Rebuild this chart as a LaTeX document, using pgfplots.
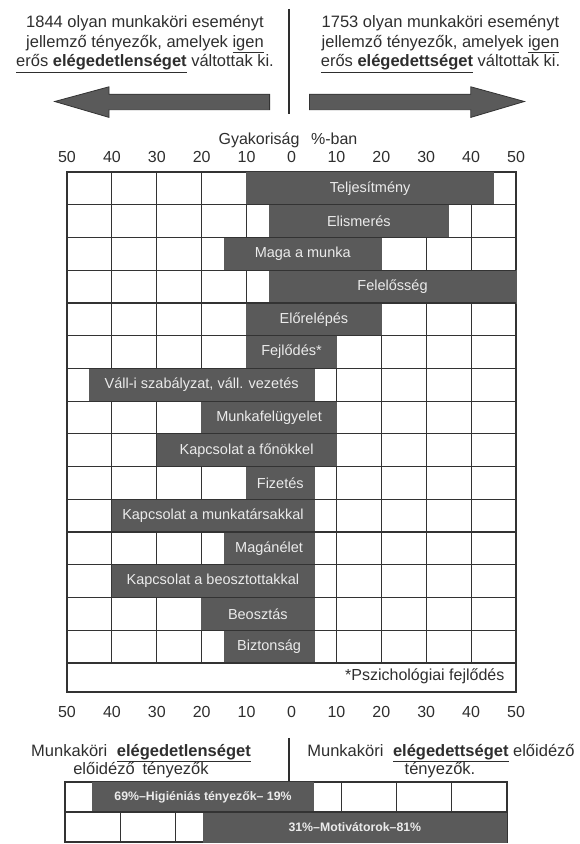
\documentclass[border=0pt]{standalone}
\usepackage{pgfplots}
\pgfplotsset{compat=1.18}
\usepackage{pgfplotstable}
\usepackage{fontspec}
\setmainfont{Liberation Sans}
\definecolor{txt}{HTML}{2E2E2E}
\definecolor{barfill}{HTML}{5A5A5A}
\definecolor{bartxt}{HTML}{EBEBEB}
\definecolor{gridc}{HTML}{333333}

\pgfplotstableread[col sep=semicolon]{
row;lo;hi;label
1;-10;45;Teljesítmény
2;-5;35;Elismerés
3;-15;20;Maga a munka
4;-5;50;Felelősség
5;-10;20;Előrelépés
6;-10;10;Fejlődés*
7;-45;5;Váll-i szabályzat, váll. vezetés
8;-20;10;Munkafelügyelet
9;-30;10;Kapcsolat a főnökkel
10;-10;5;Fizetés
11;-40;5;Kapcsolat a munkatársakkal
12;-15;5;Magánélet
13;-40;5;Kapcsolat a beosztottakkal
14;-20;5;Beosztás
15;-15;5;Biztonság
}\maindata

\pgfplotstableread[col sep=semicolon]{
row;lo;hi;label
1;-3.5;0.5;69\%\textendash Higiéniás tényezők\textendash{} 19\%
2;-1.5;4;31\%\textendash Motivátorok\textendash 81\%
}\lowdata

\begin{document}
\begin{tikzpicture}[x=1pt,y=1pt]
\useasboundingbox (0pt,0pt) rectangle (579pt,844pt);

% top texts
\node[align=center, text=txt, font=\fontsize{16.5}{19.8}\selectfont] at (145pt,800.2pt)
 {1844 olyan munkaköri eseményt\\jellemző tényezők, amelyek \underline{igen}\\\underline{erős \textbf{elégedetlenséget}} váltottak ki.};
\node[align=center, text=txt, font=\fontsize{16.5}{19.8}\selectfont] at (440.5pt,800.2pt)
 {1753 olyan munkaköri eseményt\\jellemző tényezők, amelyek \underline{igen}\\\underline{erős \textbf{elégedettséget}} váltottak ki.};
\draw[line width=1.6pt, txt] (289pt,835pt) -- (289pt,729.5pt);
% arrows
\filldraw[fill=barfill, draw=gridc, line width=0.8pt]
 (54.7pt,742.5pt) -- (109pt,757.2pt) -- (109pt,749.8pt) -- (269.6pt,749.8pt) -- (269.6pt,734.3pt) -- (109pt,734.3pt) -- (109pt,726.6pt) -- cycle;
\filldraw[fill=barfill, draw=gridc, line width=0.8pt]
 (309.5pt,749.8pt) -- (470.8pt,749.8pt) -- (470.8pt,757.2pt) -- (524.4pt,742.5pt) -- (470.8pt,726.6pt) -- (470.8pt,734.3pt) -- (309.5pt,734.3pt) -- cycle;
\node[text=txt, font=\fontsize{16}{19}\selectfont] at (288pt,704pt) {Gyakoriság\hspace{0.45em} \%-ban};

% main chart
\begin{axis}[
  at={(67pt,152pt)}, anchor=south west,
  width=449pt, height=520pt, scale only axis,
  xmin=-50, xmax=50, ymin=-0.385, ymax=15.5,
  xtick={-50,-40,...,50},
  xticklabels={50,40,30,20,10,0,10,20,30,40,50},
  xticklabel pos=upper,
  xticklabel style={anchor=south, inner sep=0pt, yshift=9pt, text=txt, font=\fontsize{16}{19}\selectfont},
  ytick=\empty, major tick length=0pt,
  axis line style={line width=1.6pt, draw=gridc},
  clip=false,
]
\pgfplotsinvokeforeach{-40,-30,-20,-10,10,20,30,40}{
  \draw[gridc, line width=1.1pt] (axis cs:#1,0.5) -- (axis cs:#1,15.5);
}
\addplot[xbar, bar width=1, bar shift=0pt, fill=barfill, draw=barfill, line width=0.6pt] table[x=lo, y expr={16-\thisrow{row}}] {\maindata};
\addplot[xbar, bar width=1, bar shift=0pt, fill=barfill, draw=barfill, line width=0.6pt] table[x=hi, y expr={16-\thisrow{row}}] {\maindata};
\pgfplotsinvokeforeach{0.5,1.5,...,14.5}{
  \draw[gridc, line width=1.2pt] (axis cs:-50,#1) -- (axis cs:50,#1);
}
\addplot[draw=none, mark=none, nodes near coords, point meta=explicit symbolic,
  nodes near coords style={anchor=center, text=bartxt, font=\fontsize{14.5}{17}\selectfont}]
  table[x expr={(\thisrow{lo}+\thisrow{hi})/2}, y expr={16-\thisrow{row}}, meta=label] {\maindata};
\node[anchor=east, text=txt, font=\fontsize{16}{19}\selectfont] at (axis cs:48.2,0.1) {*Pszichológiai fejlődés};
\end{axis}

% bottom tick labels
\begin{axis}[
  at={(67pt,152pt)}, anchor=south west,
  width=449pt, height=520pt, scale only axis,
  xmin=-50, xmax=50, ymin=0, ymax=1,
  xtick={-50,-40,...,50},
  xticklabels={50,40,30,20,10,0,10,20,30,40,50},
  xticklabel pos=lower,
  xticklabel style={anchor=north, inner sep=0pt, yshift=-14pt, text=txt, font=\fontsize{16}{19}\selectfont},
  ytick=\empty, major tick length=0pt,
  axis line style={draw=none},
]
\end{axis}

% lower legend texts
\node[text=txt, font=\fontsize{16.5}{19.8}\selectfont] at (141pt,91pt) {Munkaköri\hspace{0.3em} \underline{\textbf{elégedetlenséget}}};
\node[text=txt, font=\fontsize{16.5}{19.8}\selectfont] at (141pt,74pt) {előidéző\hspace{0.2em} tényezők};
\node[text=txt, font=\fontsize{16.5}{19.8}\selectfont] at (441pt,91pt) {Munkaköri\hspace{0.3em} \underline{\textbf{elégedettséget}} előidéző};
\node[text=txt, font=\fontsize{16.5}{19.8}\selectfont] at (440pt,74pt) {tényezők.};
\draw[line width=1.6pt, txt] (289pt,106pt) -- (289pt,63pt);

% lower chart
\begin{axis}[
  at={(65pt,2pt)}, anchor=south west,
  width=441.7pt, height=60pt, scale only axis,
  xmin=-4, xmax=4, ymin=0.5, ymax=2.5,
  xtick=\empty, ytick=\empty,
  axis line style={line width=1.6pt, draw=gridc},
  clip=false,
]
\pgfplotsinvokeforeach{-3,-2,...,3}{
  \draw[gridc, line width=1.1pt] (axis cs:#1,0.5) -- (axis cs:#1,2.5);
}
\addplot[xbar, bar width=1, bar shift=0pt, fill=barfill, draw=barfill, line width=0.6pt] table[x=lo, y expr={3-\thisrow{row}}] {\lowdata};
\addplot[xbar, bar width=1, bar shift=0pt, fill=barfill, draw=barfill, line width=0.6pt] table[x=hi, y expr={3-\thisrow{row}}] {\lowdata};
\draw[gridc, line width=1.2pt] (axis cs:-4,1.5) -- (axis cs:4,1.5);
\addplot[draw=none, mark=none, nodes near coords, point meta=explicit symbolic,
  nodes near coords style={anchor=center, text=bartxt, font=\bfseries\fontsize{12.3}{14}\selectfont}]
  table[x expr={(\thisrow{lo}+\thisrow{hi})/2}, y expr={3-\thisrow{row}}, meta=label] {\lowdata};
\end{axis}
\end{tikzpicture}
\end{document}
